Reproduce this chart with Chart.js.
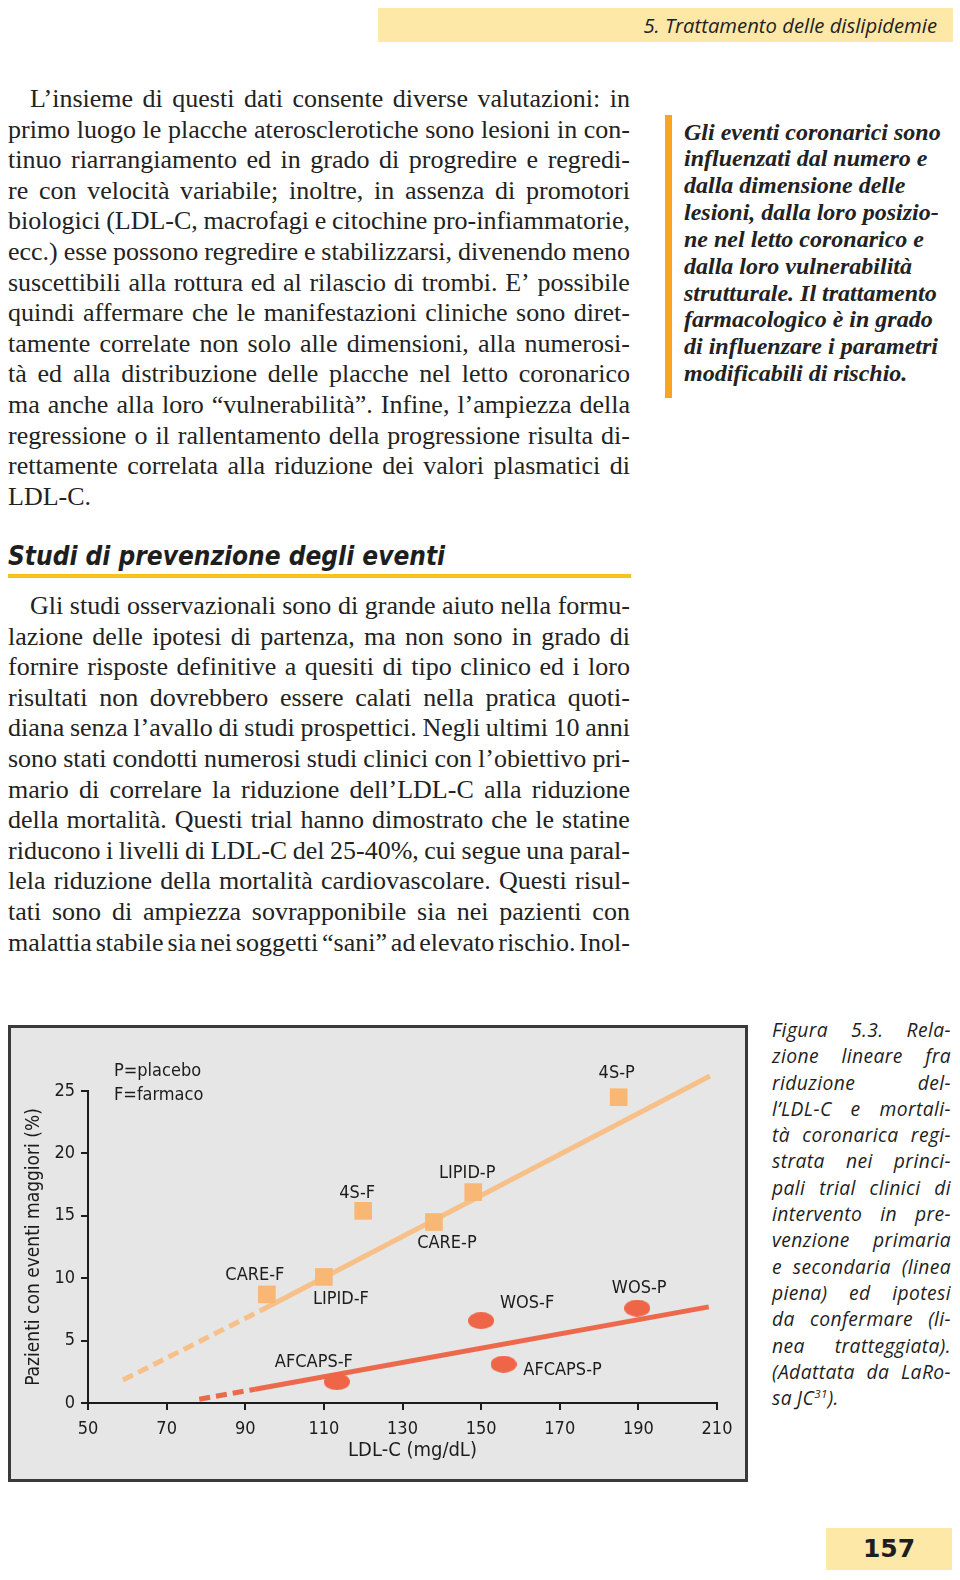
<!DOCTYPE html>
<html lang="it">
<head>
<meta charset="utf-8">
<title>Figura 5.3</title>
<script src="https://cdn.jsdelivr.net/npm/chart.js@4.4.0/dist/chart.umd.min.js"></script>
<style>
  html, body { margin: 0; padding: 0; background: #ffffff; }
  body { width: 960px; height: 1580px; position: relative; overflow: hidden; color: #1e1e1e; }
  .abs { position: absolute; }
  #header { left: 378px; top: 8px; width: 575px; height: 34px; background: #fde8a7; }
  #header span { position: absolute; right: 16px; top: 0; line-height: 34px; font-family: "Open Sans", sans-serif; font-style: italic; font-size: 20.3px; color: #222; }
  .body { font-family: "Liberation Serif", serif; font-size: 26px; color: #222; }
  .line { display: flex; justify-content: space-between; white-space: pre; }
  .line.left { justify-content: flex-start; }
  .line.left span { margin-right: 0.25em; }
  #p1 { left: 8px; top: 84px; width: 622px; }
  #p2 { left: 8px; top: 591px; width: 622px; }
  #p1 .line, #p2 .line { height: 30.6px; line-height: 30.6px; }
  #side { left: 684px; top: 118.5px; width: 274px; font-family: "Liberation Serif", serif; font-style: italic; font-weight: bold; font-size: 24px; color: #222; }
  #side div { height: 26.85px; line-height: 26.85px; white-space: nowrap; }
  #sidebar { left: 665px; top: 115px; width: 7px; height: 283px; background: #f5a623; }
  #heading { left: 8px; top: 540px; font-family: "DejaVu Sans Condensed", "DejaVu Sans", sans-serif; font-stretch: condensed; font-weight: bold; font-style: italic; font-size: 26px; line-height: 32px; color: #1e1e1e; white-space: nowrap; }
  #underline { left: 8px; top: 574px; width: 623px; height: 4px; background: #f7c21c; }
  #frame { left: 8px; top: 1025px; width: 740px; height: 457px; box-sizing: border-box; border: 3px solid #3a3a3a; background: #e6e6e7; }
  #frame canvas { position: absolute; left: 0; top: 0; }
  #caption { left: 772px; top: 1017px; width: 179px; font-family: "Open Sans", sans-serif; font-style: italic; font-size: 19.3px; letter-spacing: 0.4px; color: #1e1e1e; }
  #caption .line { height: 26.3px; line-height: 26.3px; }
  #pagebox { left: 826px; top: 1528px; width: 126px; height: 42px; background: #fde8a7; text-align: center; font-family: "DejaVu Sans", sans-serif; font-weight: bold; font-size: 25px; line-height: 42px; color: #1e1e1e; }
  sup { font-size: 0.6em; line-height: 0; }
</style>
</head>
<body>
<div id="header" class="abs"><span>5. Trattamento delle dislipidemie</span></div>

<div id="p1" class="abs body"></div>
<div id="sidebar" class="abs"></div>
<div id="side" class="abs"></div>

<div id="heading" class="abs">Studi di prevenzione degli eventi</div>
<div id="underline" class="abs"></div>
<div id="p2" class="abs body"></div>

<div id="frame" class="abs"><canvas id="chart" width="734" height="451" style="width:734px;height:451px"></canvas></div>
<div id="caption" class="abs"></div>
<div id="pagebox" class="abs">157</div>

<script>
// ---------------- page text ----------------
const para1Lines = [
  "L’insieme di questi dati consente diverse valutazioni: in",
  "primo luogo le placche aterosclerotiche sono lesioni in con-",
  "tinuo riarrangiamento ed in grado di progredire e regredi-",
  "re con velocità variabile; inoltre, in assenza di promotori",
  "biologici (LDL-C, macrofagi e citochine pro-infiammatorie,",
  "ecc.) esse possono regredire e stabilizzarsi, divenendo meno",
  "suscettibili alla rottura ed al rilascio di trombi. E’ possibile",
  "quindi affermare che le manifestazioni cliniche sono diret-",
  "tamente correlate non solo alle dimensioni, alla numerosi-",
  "tà ed alla distribuzione delle placche nel letto coronarico",
  "ma anche alla loro “vulnerabilità”. Infine, l’ampiezza della",
  "regressione o il rallentamento della progressione risulta di-",
  "rettamente correlata alla riduzione dei valori plasmatici di",
  "LDL-C."
];
const para2Lines = [
  "Gli studi osservazionali sono di grande aiuto nella formu-",
  "lazione delle ipotesi di partenza, ma non sono in grado di",
  "fornire risposte definitive a quesiti di tipo clinico ed i loro",
  "risultati non dovrebbero essere calati nella pratica quoti-",
  "diana senza l’avallo di studi prospettici. Negli ultimi 10 anni",
  "sono stati condotti numerosi studi clinici con l’obiettivo pri-",
  "mario di correlare la riduzione dell’LDL-C alla riduzione",
  "della mortalità. Questi trial hanno dimostrato che le statine",
  "riducono i livelli di LDL-C del 25-40%, cui segue una paral-",
  "lela riduzione della mortalità cardiovascolare. Questi risul-",
  "tati sono di ampiezza sovrapponibile sia nei pazienti con",
  "malattia stabile sia nei soggetti “sani” ad elevato rischio. Inol-"
];
const sideLines = [
  "Gli eventi coronarici sono",
  "influenzati dal numero e",
  "dalla dimensione delle",
  "lesioni, dalla loro posizio-",
  "ne nel letto coronarico e",
  "dalla loro vulnerabilità",
  "strutturale. Il trattamento",
  "farmacologico è in grado",
  "di influenzare i parametri",
  "modificabili di rischio."
];
const captionLines = [
  "Figura 5.3. Rela-",
  "zione lineare fra",
  "riduzione del-",
  "l’LDL-C e mortali-",
  "tà coronarica regi-",
  "strata nei princi-",
  "pali trial clinici di",
  "intervento in pre-",
  "venzione primaria",
  "e secondaria (linea",
  "piena) ed ipotesi",
  "da confermare (li-",
  "nea tratteggiata).",
  "(Adattata da LaRo-"
];
const captionLast = ["sa", "JC", "31", ")."];

function fillJustified(el, lines, lastLeft, indentPx) {
  lines.forEach((txt, i) => {
    const d = document.createElement('div');
    d.className = 'line' + ((lastLeft && i === lines.length - 1) ? ' left' : '');
    if (i === 0 && indentPx) d.style.paddingLeft = indentPx + 'px';
    txt.split(' ').forEach(w => {
      const s = document.createElement('span');
      s.textContent = w;
      d.appendChild(s);
    });
    el.appendChild(d);
  });
}
fillJustified(document.getElementById('p1'), para1Lines, true, 22);
fillJustified(document.getElementById('p2'), para2Lines, false, 22);
fillJustified(document.getElementById('caption'), captionLines, false, 0);
(function () {
  const d = document.createElement('div');
  d.className = 'line left';
  d.innerHTML = '<span>' + captionLast[0] + '</span><span style="margin-right:0">' + captionLast[1] +
    '<sup>' + captionLast[2] + '</sup>' + captionLast[3] + '</span>';
  document.getElementById('caption').appendChild(d);
})();
const side = document.getElementById('side');
sideLines.forEach(t => { const d = document.createElement('div'); d.textContent = t; side.appendChild(d); });

// ---------------- chart data ----------------
const xTickValues = [50, 70, 90, 110, 130, 150, 170, 190, 210];
const yTickValues = [0, 5, 10, 15, 20, 25];

// Secondary prevention trials (squares)
const sqLabels = ["CARE-F", "LIPID-F", "4S-F", "CARE-P", "LIPID-P", "4S-P"];
const sqX = [95.5, 110, 120, 138, 148, 185];
const sqY = [8.7, 10.1, 15.4, 14.5, 16.9, 24.5];

// Primary prevention trials (ellipses)
const circLabels = ["AFCAPS-F", "WOS-F", "AFCAPS-P", "WOS-P"];
const circX = [113.3, 150, 155.7, 189.7];
const circY = [1.7, 6.6, 3.1, 7.6];

// Regression lines: [dashed start, solid start, solid end]
const secFitX = [58.9, 94.2, 208.2];
const secFitY = [1.84, 7.45, 26.2];
const primFitX = [78.3, 92.5, 207.9];
const primFitY = [0.3, 1.1, 7.7];

const xTitle = 'LDL-C (mg/dL)';
const yTitle = 'Pazienti con eventi maggiori (%)';

// ---------------- styles ----------------
const FONT = "'DejaVu Sans Condensed', 'DejaVu Sans', sans-serif";
const ORANGE_PT = '#f9b775';
const ORANGE_LN = '#f7c089';
const RED_PT = '#ee6547';
const RED_LN = '#ec6a4b';
const INK = '#1c1c1c';
// label offsets (pixels from point centre to label centre)
const sqLabelOffsets = [[-12, -19], [17, 22], [-6, -17], [13, 21], [-6, -19], [-2, -24]];
const circLabelOffsets = [[-23, -19], [46, -17], [59, 6], [2, -20]];

function ellipseImage(w, h, color) {
  const c = document.createElement('canvas');
  c.width = w; c.height = h;
  const g = c.getContext('2d');
  g.fillStyle = color;
  g.beginPath();
  g.ellipse(w / 2, h / 2, w / 2, h / 2, 0, 0, Math.PI * 2);
  g.fill();
  return c;
}
const ellipse = ellipseImage(26, 17, RED_PT);

const pts = (xs, ys) => xs.map((x, i) => ({ x: x, y: ys[i] }));

const labelPlugin = {
  id: 'pointLabels',
  afterDatasetsDraw(chart) {
    const ctx = chart.ctx, xs = chart.scales.x, ys = chart.scales.y, ca = chart.chartArea;
    ctx.save();
    ctx.font = '18px ' + FONT;
    ctx.fillStyle = INK;
    ctx.textAlign = 'center';
    ctx.textBaseline = 'middle';
    sqLabels.forEach((t, i) => {
      const o = sqLabelOffsets[i];
      ctx.fillText(t, xs.getPixelForValue(sqX[i]) + o[0], ys.getPixelForValue(sqY[i]) + o[1]);
    });
    circLabels.forEach((t, i) => {
      const o = circLabelOffsets[i];
      ctx.fillText(t, xs.getPixelForValue(circX[i]) + o[0], ys.getPixelForValue(circY[i]) + o[1]);
    });
    // x-axis title (slightly right of the axis centre, as in the original)
    ctx.font = '20px ' + FONT;
    ctx.fillText(xTitle, (ca.left + ca.right) / 2 + 10, ca.bottom + 48);
    ctx.font = '18px ' + FONT;
    ctx.textAlign = 'left';
    ctx.fillText('P=placebo', ca.left + 26, ca.top - 19.5);
    ctx.fillText('F=farmaco', ca.left + 26, ca.top + 4.5);
    ctx.restore();
  }
};

new Chart(document.getElementById('chart'), {
  type: 'scatter',
  data: {
    datasets: [
      { label: 'Prevenzione secondaria', data: pts(sqX, sqY), pointStyle: 'rect', pointRadius: 12.5,
        backgroundColor: ORANGE_PT, borderWidth: 0, showLine: false, clip: false },
      { label: 'Prevenzione primaria', data: pts(circX, circY), pointStyle: ellipse,
        backgroundColor: RED_PT, borderWidth: 0, showLine: false, clip: false },
      { label: 'Retta secondaria', data: pts(secFitX.slice(1), secFitY.slice(1)), showLine: true,
        borderColor: ORANGE_LN, borderWidth: 5, pointRadius: 0, borderCapStyle: 'butt', clip: false },
      { label: 'Ipotesi secondaria', data: pts(secFitX.slice(0, 2), secFitY.slice(0, 2)), showLine: true,
        borderColor: ORANGE_LN, borderWidth: 5, pointRadius: 0, borderDash: [11, 6], borderCapStyle: 'butt', clip: false },
      { label: 'Retta primaria', data: pts(primFitX.slice(1), primFitY.slice(1)), showLine: true,
        borderColor: RED_LN, borderWidth: 5, pointRadius: 0, borderCapStyle: 'butt', clip: false },
      { label: 'Ipotesi primaria', data: pts(primFitX.slice(0, 2), primFitY.slice(0, 2)), showLine: true,
        borderColor: RED_LN, borderWidth: 5, pointRadius: 0, borderDash: [11, 6], borderCapStyle: 'butt', clip: false }
    ]
  },
  options: {
    responsive: false,
    animation: false,
    events: [],
    layout: { padding: { left: 0, top: 63, right: 28, bottom: 0 } },
    plugins: { legend: { display: false }, tooltip: { enabled: false } },
    scales: {
      x: {
        type: 'linear', min: xTickValues[0], max: xTickValues[xTickValues.length - 1],
        afterBuildTicks: s => { s.ticks = xTickValues.map(v => ({ value: v })); },
        afterFit: s => { s.height = 76; },
        grid: { drawOnChartArea: false, drawTicks: true, tickLength: 7, color: INK, lineWidth: 2 },
        border: { display: true, color: INK, width: 2 },
        ticks: { color: INK, font: { family: FONT, size: 18 }, padding: 9, maxRotation: 0 },
        title: { display: false }
      },
      y: {
        type: 'linear', min: yTickValues[0], max: yTickValues[yTickValues.length - 1],
        afterBuildTicks: s => { s.ticks = yTickValues.map(v => ({ value: v })); },
        afterFit: s => { s.width = 77; },
        grid: { drawOnChartArea: false, drawTicks: true, tickLength: 7, color: INK, lineWidth: 2 },
        border: { display: true, color: INK, width: 2 },
        ticks: { color: INK, font: { family: FONT, size: 18 }, padding: 6 },
        title: { display: true, text: yTitle, color: INK,
                 font: { family: FONT, size: 19 }, padding: { top: 12, bottom: 12 } }
      }
    }
  },
  plugins: [labelPlugin]
});
</script>
</body>
</html>
